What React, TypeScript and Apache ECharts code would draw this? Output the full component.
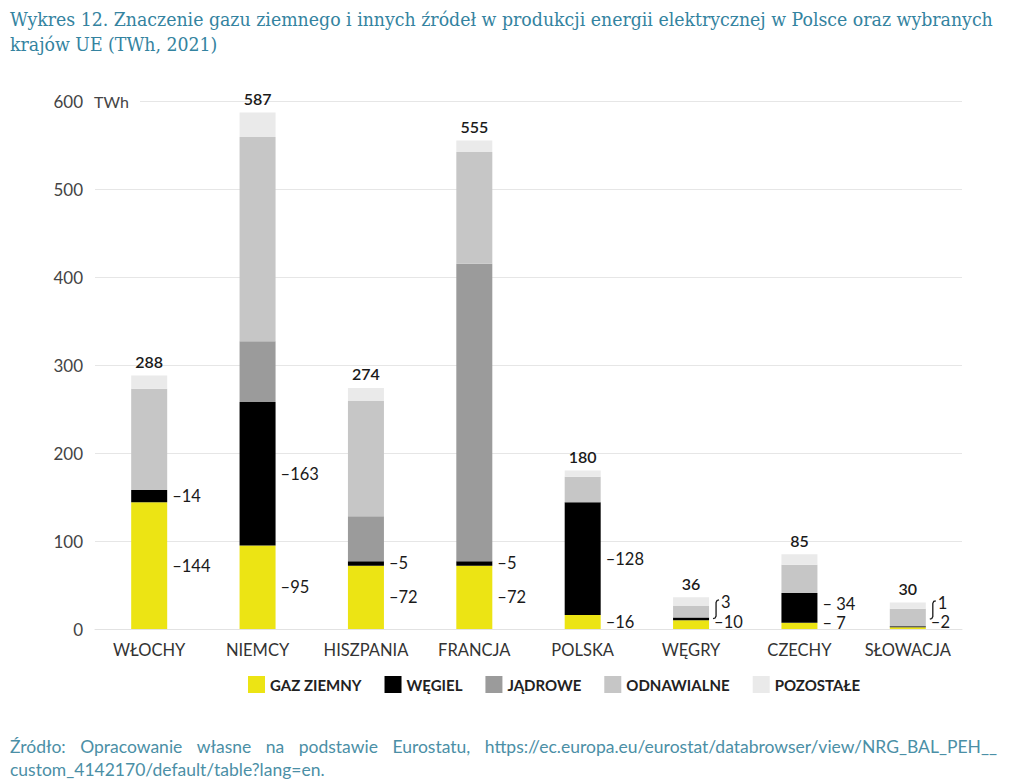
import React, { useEffect, useRef } from "react";
import * as echarts from "echarts";

// Electricity generation by source, TWh, 2021
const categories = ["WŁOCHY", "NIEMCY", "HISZPANIA", "FRANCJA", "POLSKA", "WĘGRY", "CZECHY", "SŁOWACJA"];
const gas = [144, 95, 72, 72, 16, 10, 7, 2];
const coal = [14, 163, 5, 5, 128, 3, 34, 1];
const nuclear = [0, 69, 51, 338, 0, 0, 0, 0];
const renewables = [115, 232, 131, 127, 29, 13, 32, 20];
const other = [15, 28, 15, 13, 7, 10, 12, 7];
const totals = [288, 587, 274, 555, 180, 36, 85, 30];

const seriesNames = ["GAZ ZIEMNY", "WĘGIEL", "JĄDROWE", "ODNAWIALNE", "POZOSTAŁE"];
const seriesColors = ["#ECE414", "#000000", "#9B9B9B", "#C6C6C6", "#EAEAEA"];

// countries whose tiny coal segment gets a bracketed label set above the bar
const bracketed = ["WĘGRY", "SŁOWACJA"];
const coalLabelShift: Record<string, number> = { "WĘGRY": -17, "SŁOWACJA": -24, "CZECHY": -4 };
const gasLabelShift: Record<string, number> = { "WĘGRY": -3, "SŁOWACJA": -6, "CZECHY": -3 };
const spacedDash = ["CZECHY"];

const TITLE =
  "Wykres 12. Znaczenie gazu ziemnego i innych źródeł w produkcji energii elektrycznej w Polsce oraz wybranych\nkrajów UE (TWh, 2021)";
const SOURCE_WORDS = ["Źródło:", "Opracowanie", "własne", "na", "podstawie", "Eurostatu,", "https://ec.europa.eu/eurostat/databrowser/view/NRG_BAL_PEH__"];
const SOURCE_LINE2 = "custom_4142170/default/table?lang=en.";

const FONT = "Lato, 'Noto Sans', sans-serif";
const LABEL_COLOR = "#1a1a1a";
const SOURCE_COLOR = "#4B8FA6";
const SOURCE_FONT = `17.5px ${FONT}`;
const BAR_WIDTH = 36;

export default function App() {
  const ref = useRef<HTMLDivElement>(null);

  useEffect(() => {
    if (!ref.current) return;
    const chart = echarts.init(ref.current, null, { renderer: "svg" });

    const baseLabel = {
      show: true,
      position: "right",
      distance: 5,
      color: LABEL_COLOR,
      fontSize: 16.5,
      fontFamily: FONT,
    };

    const gasData = gas.map((v, i) => {
      const c = categories[i];
      return {
        value: v,
        label: {
          ...baseLabel,
          offset: [0, gasLabelShift[c] ?? 0],
          formatter: spacedDash.includes(c) ? "– {c}" : "–{c}",
        },
      };
    });

    const coalData = coal.map((v, i) => {
      const c = categories[i];
      if (bracketed.includes(c)) {
        return { value: v, label: { ...baseLabel, distance: 12, offset: [0, coalLabelShift[c]], formatter: "{c}" } };
      }
      return {
        value: v,
        label: {
          ...baseLabel,
          offset: [0, coalLabelShift[c] ?? 0],
          formatter: spacedDash.includes(c) ? "– {c}" : "–{c}",
        },
      };
    });

    const dataSets = [gasData, coalData, nuclear, renewables, other];

    const series = dataSets.map((data, k) => {
      const s: any = {
        name: seriesNames[k],
        type: "bar",
        stack: "total",
        barWidth: BAR_WIDTH,
        data,
        itemStyle: { color: seriesColors[k] },
        emphasis: { disabled: true },
      };
      if (k === 4) {
        s.label = {
          show: true,
          position: "top",
          distance: 6,
          color: LABEL_COLOR,
          fontSize: 16,
          fontWeight: 600,
          fontFamily: FONT,
          formatter: (p: any) => String(totals[p.dataIndex]),
        };
      }
      return s;
    });

    // justified first line of the source note
    const measure = (t: string) =>
      new echarts.graphic.Text({ style: { text: t, font: SOURCE_FONT } }).getBoundingRect().width;
    const widths = SOURCE_WORDS.map(measure);
    const left = 10;
    const right = 997;
    const gap = (right - left - widths.reduce((a, b) => a + b, 0)) / (SOURCE_WORDS.length - 1);
    let cursor = left;
    const sourceTexts = SOURCE_WORDS.map((w, i) => {
      const el = {
        type: "text",
        x: cursor,
        y: 746,
        z: 10,
        style: { text: w, fill: SOURCE_COLOR, font: SOURCE_FONT, verticalAlign: "middle" },
      };
      cursor += widths[i] + gap;
      return el;
    });

    const baseGraphic: any[] = [
      { type: "rect", x: 92, y: 91, z: 10, shape: { width: 48, height: 20 }, style: { fill: "#fff" } },
      {
        type: "text",
        x: 94,
        y: 101,
        z: 11,
        style: { text: "TWh", fill: "#444", font: `16px ${FONT}`, verticalAlign: "middle" },
      },
      ...sourceTexts,
      {
        type: "text",
        x: 10,
        y: 769,
        z: 10,
        style: { text: SOURCE_LINE2, fill: SOURCE_COLOR, font: SOURCE_FONT, verticalAlign: "middle" },
      },
    ];

    chart.setOption({
      animation: false,
      title: {
        text: TITLE,
        left: 10,
        top: 7,
        padding: 0,
        textStyle: {
          fontFamily: "'DejaVu Serif Condensed', 'DejaVu Serif', serif",
          fontSize: 19.3,
          fontWeight: "normal",
          color: "#3483A0",
          lineHeight: 25,
        },
      },
      legend: {
        data: seriesNames,
        left: 248,
        top: 676,
        padding: 0,
        icon: "rect",
        itemWidth: 17,
        itemHeight: 17,
        itemGap: 23,
        textStyle: { fontFamily: FONT, fontSize: 15, fontWeight: "bold", color: "#222" },
      },
      grid: { left: 95, right: 62, top: 101, bottom: 155 },
      xAxis: {
        type: "category",
        data: categories,
        axisLine: { lineStyle: { color: "#e2e2e2" } },
        axisTick: { show: false },
        axisLabel: { interval: 0, fontFamily: FONT, fontSize: 16.5, color: "#333", margin: 12 },
      },
      yAxis: {
        type: "value",
        min: 0,
        max: 600,
        interval: 100,
        axisLine: { show: false },
        axisTick: { show: false },
        axisLabel: { fontFamily: FONT, fontSize: 17, color: "#444", margin: 12 },
        splitLine: { lineStyle: { color: "#e6e6e6" } },
      },
      graphic: baseGraphic,
      series,
    });

    // brackets tying a raised coal label to its thin segment
    const brackets = bracketed.map((c) => {
      const i = categories.indexOf(c);
      const [cx, yCoal] = chart.convertToPixel({ xAxisIndex: 0, yAxisIndex: 0 }, [i, gas[i] + coal[i] / 2]) as number[];
      const [, yGas] = chart.convertToPixel({ xAxisIndex: 0, yAxisIndex: 0 }, [i, gas[i] / 2]) as number[];
      const x = cx + BAR_WIDTH / 2 + 6;
      const yTop = yCoal + coalLabelShift[c] - 2;
      const yBot = yGas + (gasLabelShift[c] ?? 0) - 3;
      return {
        type: "polyline",
        z: 10,
        shape: {
          points: [
            [x + 4, yTop],
            [x + 2, yTop + 0.6],
            [x + 1, yTop + 2.5],
            [x + 1, yBot - 2.5],
            [x, yBot - 0.6],
            [x - 2, yBot],
          ],
        },
        style: { stroke: LABEL_COLOR, lineWidth: 1.3, fill: null },
      };
    });

    chart.setOption({ graphic: [...baseGraphic, ...brackets] });

    return () => chart.dispose();
  }, []);

  return <div ref={ref} style={{ position: "fixed", left: 0, top: 0, width: 1024, height: 784, background: "#fff" }} />;
}
